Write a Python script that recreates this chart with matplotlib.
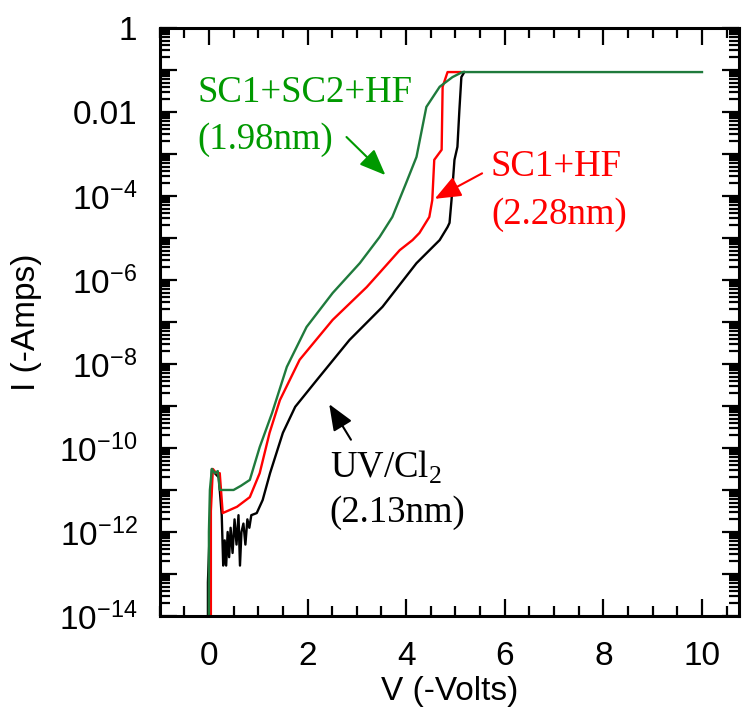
import numpy as np
import matplotlib
matplotlib.use("Agg")
import matplotlib.pyplot as plt
from matplotlib.ticker import MultipleLocator, LogLocator, FuncFormatter, NullFormatter

# I-V curves, log10 of current
v_green = [0.0, 0.0, 0.02, 0.06, 0.12, 0.18, 0.22, 0.3, 0.5, 0.65, 0.83, 1.03, 1.28, 1.58,
           1.98, 2.51, 3.06, 3.46, 3.72, 4.0, 4.21, 4.41, 4.68, 4.94, 5.14, 10.0]
logi_green = [-14.5, -12.0, -11.0, -10.5, -10.6, -10.55, -11.0, -11.0, -11.0, -10.9, -10.76,
              -9.98, -9.17, -8.07, -7.12, -6.31, -5.6, -4.98, -4.5, -3.69, -3.07, -1.88,
              -1.4, -1.17, -1.05, -1.05]

v_red = [0.04, 0.04, 0.08, 0.15, 0.22, 0.28, 0.57, 0.83, 1.03, 1.23, 1.44, 1.84, 2.51, 3.2,
         3.46, 3.87, 4.13, 4.27, 4.47, 4.53, 4.57, 4.72, 4.74, 4.84, 5.1]
logi_red = [-14.5, -11.5, -10.5, -10.6, -10.6, -11.55, -11.4, -11.17, -10.6, -9.64, -8.86,
            -7.9, -6.95, -6.17, -5.83, -5.29, -5.05, -4.88, -4.5, -4.1, -3.14, -2.9, -1.4,
            -1.05, -1.05]

v_black = [-0.02, -0.02, 0.03, 0.06, 0.12, 0.2, 0.26, 0.29, 0.32, 0.35, 0.38, 0.41, 0.44,
           0.48, 0.52, 0.56, 0.6, 0.63, 0.66, 0.7, 0.74, 0.78, 0.82, 0.86, 0.97, 1.09, 1.24,
           1.5, 1.75, 2.19, 2.85, 3.52, 4.21, 4.68, 4.84, 4.88, 4.92, 4.98, 5.04, 5.08, 5.12,
           5.18]
logi_black = [-14.5, -13.2, -11.5, -10.5, -10.6, -10.7, -11.6, -12.8, -12.2, -12.8, -12.0,
              -12.6, -11.9, -12.5, -11.7, -12.3, -11.6, -12.8, -12.0, -11.8, -12.3, -11.7,
              -11.9, -11.6, -11.55, -11.24, -10.6, -9.64, -9.02, -8.38, -7.43, -6.64, -5.6,
              -5.05, -4.74, -4.64, -4.1, -3.14, -2.83, -1.95, -1.17, -1.05]

plt.rcParams['font.family'] = ['Liberation Sans', 'DejaVu Sans']

fig = plt.figure(figsize=(7.5, 7.17), dpi=100)
ax = fig.add_axes([0.2128, 0.1409, 0.7725, 0.8201])

ax.plot(v_black, 10 ** np.array(logi_black), color='black', lw=1.7)
ax.plot(v_red, 10 ** np.array(logi_red), color='#ff0000', lw=1.7)
ax.plot(v_green, 10 ** np.array(logi_green), color='#1f7a3c', lw=1.7)

ax.set_yscale('log')
ax.set_xlim(-1, 10.75)
ax.set_ylim(1e-14, 1)

ax.xaxis.set_major_locator(MultipleLocator(2))
ax.xaxis.set_minor_locator(MultipleLocator(0.5))
ax.yaxis.set_major_locator(LogLocator(base=10, numticks=30))
ax.yaxis.set_minor_locator(LogLocator(base=10, subs=np.arange(2, 10), numticks=30))
ax.yaxis.set_minor_formatter(NullFormatter())


def ylab(val, pos):
    e = int(round(np.log10(val)))
    if e % 2:
        return ''
    if e == 0:
        return '1'
    if e == -2:
        return '0.01'
    return r'$\mathregular{10^{%d}}$' % e


ax.yaxis.set_major_formatter(FuncFormatter(ylab))

ax.tick_params(which='both', direction='in', top=True, right=True, width=1.6, labelsize=24)
ax.tick_params(which='major', length=12)
ax.tick_params(which='minor', length=7)
ax.tick_params(axis='x', which='major', pad=18)
ax.tick_params(axis='y', which='major', pad=16)
for s in ax.spines.values():
    s.set_linewidth(2.2)

ax.set_xlabel('V (-Volts)', fontsize=24, labelpad=3)
ax.set_ylabel('I (-Amps)', fontsize=24, labelpad=12)

serif = ['Liberation Serif', 'DejaVu Serif']
green = '#009900'
head = '-|>,head_length=1.6,head_width=0.65'
ax.text(-0.23, 10 ** -1.55, 'SC1+SC2+HF', color=green, fontsize=26.5, family=serif, va='center')
ax.text(-0.23, 10 ** -2.67, '(1.98nm)', color=green, fontsize=26.5, family=serif, va='center')
ax.annotate('', xy=(3.62, 10 ** -3.55), xytext=(2.75, 10 ** -2.55),
            arrowprops=dict(arrowstyle=head, color=green, lw=1.5))

ax.text(5.72, 10 ** -3.31, 'SC1+HF', color='#ff0000', fontsize=26.5, family=serif, va='center')
ax.text(5.72, 10 ** -4.45, '(2.28nm)', color='#ff0000', fontsize=26.5, family=serif, va='center')
ax.annotate('', xy=(4.53, 10 ** -4.1), xytext=(5.59, 10 ** -3.43),
            arrowprops=dict(arrowstyle=head, color='#ff0000', lw=1.5))

ax.text(2.45, 10 ** -10.45, r'UV/Cl$_\mathregular{2}$', color='black', fontsize=26.5, family=serif, va='center')
ax.text(2.45, 10 ** -11.55, '(2.13nm)', color='black', fontsize=26.5, family=serif, va='center')
ax.annotate('', xy=(2.41, 10 ** -8.9), xytext=(2.91, 10 ** -9.86),
            arrowprops=dict(arrowstyle=head, color='black', lw=1.5))

fig.savefig('out.png', dpi=100)
